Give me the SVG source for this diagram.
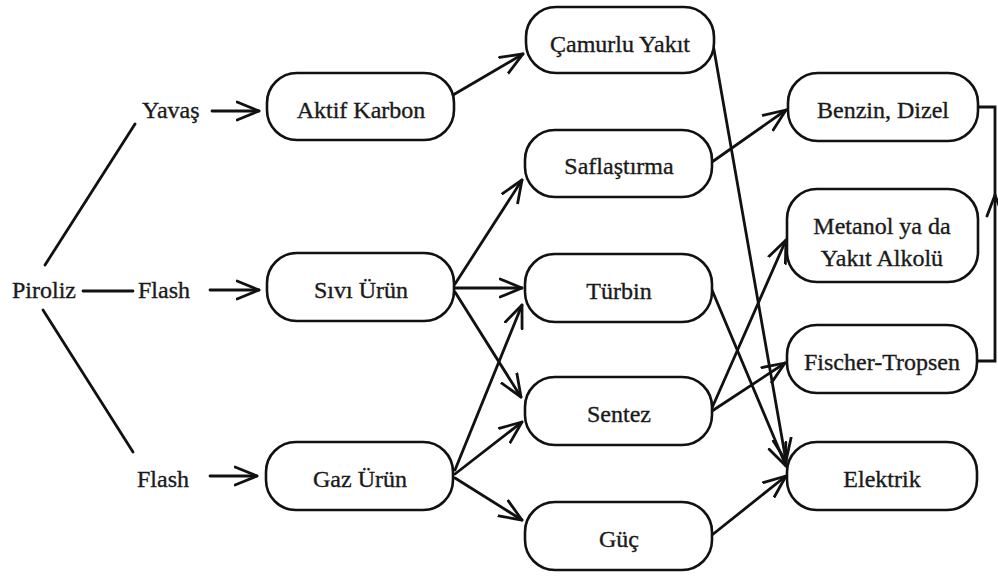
<svg xmlns="http://www.w3.org/2000/svg" width="998" height="576" viewBox="0 0 998 576">
<style>
.box{fill:#fff;stroke:#111;stroke-width:2.6}
.t{font-family:"Liberation Serif","Times New Roman",serif;font-size:24px;fill:#1a1a1a;stroke:#1a1a1a;stroke-width:0.35;text-anchor:middle}
.l{font-family:"Liberation Serif","Times New Roman",serif;font-size:24px;fill:#1a1a1a;stroke:#1a1a1a;stroke-width:0.35}
.c{fill:none;stroke:#111;stroke-width:2.8;stroke-linecap:round}
.a{marker-end:url(#ah)}
</style>
<defs>
<marker id="ah" markerUnits="userSpaceOnUse" markerWidth="26" markerHeight="22" viewBox="0 0 26 22" refX="23" refY="11" orient="auto">
<path d="M1,2 L23,11 L1,20" fill="none" stroke="#111" stroke-width="2.8" stroke-linecap="round" stroke-linejoin="round"/>
</marker>
</defs>
<rect width="998" height="576" fill="#fff"/>
<g id="connectors">
<path class="c" d="M83,291 H133"/>
<path class="c" d="M45,265 L135,124"/>
<path class="c" d="M43,310 L133,452"/>
<path class="c a" d="M212,111 H259"/>
<path class="c a" d="M210,290 H259"/>
<path class="c a" d="M210,476 H257"/>
<path class="c a" d="M453,95 L523,54"/>
<path class="c a" d="M455,284 L522,180"/>
<path class="c a" d="M455,288 L522,288"/>
<path class="c a" d="M455,292 L521,397"/>
<path class="c a" d="M455,470 L522,305"/>
<path class="c a" d="M455,474 L522,422"/>
<path class="c a" d="M455,478 L522,520"/>
<path class="c a" d="M713,44 L786,461"/>
<path class="c a" d="M712,290 L786,466"/>
<path class="c a" d="M712,535 L786,476"/>
<path class="c a" d="M712,162 L786,110"/>
<path class="c a" d="M712,408 L786,240"/>
<path class="c a" d="M712,411 L785,363"/>
<path class="c" d="M978,107 H995 V361 H977"/>
<path class="c" d="M987,216 L995,195 L1003,216"/>
</g>
<g id="piroliz"><text class="l" x="12" y="298">Piroliz</text></g>
<g id="yavas"><text class="l" x="142" y="118">Yavaş</text></g>
<g id="flash1"><text class="l" x="138" y="298">Flash</text></g>
<g id="flash2"><text class="l" x="137" y="487">Flash</text></g>
<g id="aktif-karbon"><rect class="box" x="267" y="73" width="187" height="67" rx="30"/><text class="t" x="361" y="118">Aktif Karbon</text></g>
<g id="sivi-urun"><rect class="box" x="267" y="253" width="187" height="68" rx="30"/><text class="t" x="361" y="298">Sıvı Ürün</text></g>
<g id="gaz-urun"><rect class="box" x="266" y="442" width="187" height="68" rx="30"/><text class="t" x="360" y="487">Gaz Ürün</text></g>
<g id="camurlu-yakit"><rect class="box" x="526" y="7" width="188" height="66" rx="30"/><text class="t" x="620" y="52">Çamurlu Yakıt</text></g>
<g id="saflastirma"><rect class="box" x="525" y="130" width="187" height="67" rx="30"/><text class="t" x="619" y="174">Saflaştırma</text></g>
<g id="turbin"><rect class="box" x="525" y="254" width="187" height="68" rx="30"/><text class="t" x="619" y="299">Türbin</text></g>
<g id="sentez"><rect class="box" x="525" y="377" width="187" height="68" rx="30"/><text class="t" x="619" y="422">Sentez</text></g>
<g id="guc"><rect class="box" x="525" y="502" width="187" height="68" rx="30"/><text class="t" x="619" y="547">Güç</text></g>
<g id="benzin-dizel"><rect class="box" x="788" y="73" width="190" height="68" rx="30"/><text class="t" x="883" y="118">Benzin, Dizel</text></g>
<g id="metanol"><rect class="box" x="787" y="189" width="191" height="93" rx="30"/><text class="t" x="882" y="234">Metanol ya da</text><text class="t" x="882" y="266">Yakıt Alkolü</text></g>
<g id="fischer-tropsen"><rect class="box" x="787" y="325" width="190" height="68" rx="30"/><text class="t" x="882" y="370">Fischer-Tropsen</text></g>
<g id="elektrik"><rect class="box" x="787" y="442" width="190" height="68" rx="30"/><text class="t" x="882" y="487">Elektrik</text></g>
</svg>
